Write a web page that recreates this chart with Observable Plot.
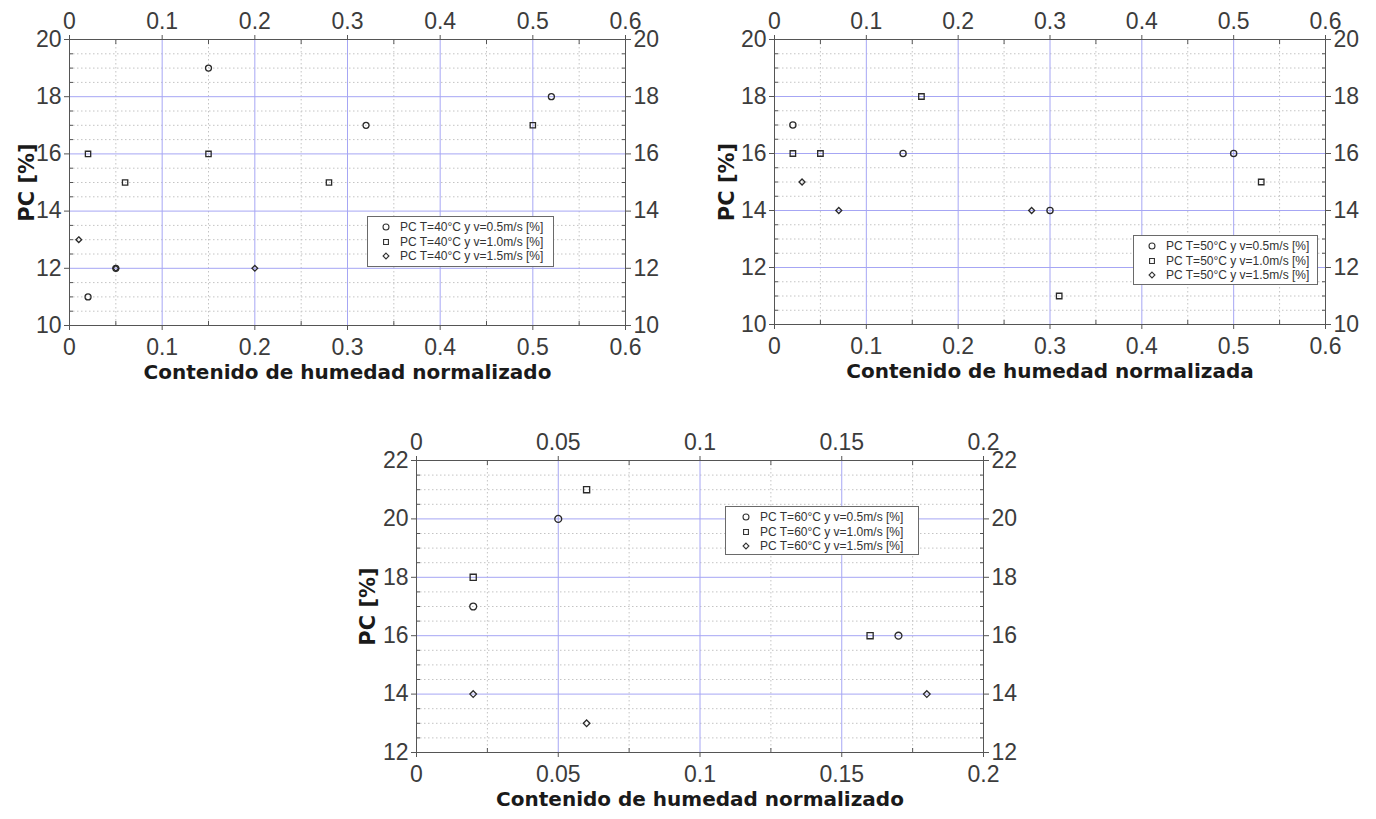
<!DOCTYPE html>
<html>
<head>
<meta charset="utf-8">
<script src="https://cdn.jsdelivr.net/npm/d3@7"></script>
<script src="https://cdn.jsdelivr.net/npm/@observablehq/plot@0.6"></script>
<style>
  html, body { margin: 0; padding: 0; background: #fff; }
  #page { position: relative; width: 1376px; height: 819px; overflow: hidden; background: #fff; }
  .panel { position: absolute; }
  .legend {
    position: absolute; background: #fff; border: 1px solid #6a6a6a;
    font-family: 'Liberation Sans', Arial, sans-serif;
    font-size: 12px; color: #333; box-sizing: border-box;
  }
  .legend .row { display: flex; align-items: center; height: 14.5px; white-space: nowrap; }
  .legend svg { display: block; flex-shrink: 0; }
</style>
</head>
<body>
<div id="page"></div>
<script>
// PC [%] versus normalised moisture content, three drying temperatures

// T = 40 °C
const x40_v05 = [0.02, 0.05, 0.15, 0.32, 0.52];
const y40_v05 = [11, 12, 19, 17, 18];
const x40_v10 = [0.02, 0.06, 0.15, 0.28, 0.50];
const y40_v10 = [16, 15, 16, 15, 17];
const x40_v15 = [0.01, 0.05, 0.20];
const y40_v15 = [13, 12, 12];

// T = 50 °C
const x50_v05 = [0.02, 0.14, 0.30, 0.50];
const y50_v05 = [17, 16, 14, 16];
const x50_v10 = [0.02, 0.05, 0.16, 0.31, 0.53];
const y50_v10 = [16, 16, 18, 11, 15];
const x50_v15 = [0.03, 0.07, 0.28];
const y50_v15 = [15, 14, 14];

// T = 60 °C
const x60_v05 = [0.02, 0.05, 0.17];
const y60_v05 = [17, 20, 16];
const x60_v10 = [0.02, 0.06, 0.16];
const y60_v10 = [18, 21, 16];
const x60_v15 = [0.02, 0.06, 0.18];
const y60_v15 = [14, 13, 14];

// Axis ticks
const xTicksA = [0, 0.1, 0.2, 0.3, 0.4, 0.5, 0.6];
const xMinorA = [0.05, 0.15, 0.25, 0.35, 0.45, 0.55];
const yTicksA = [10, 12, 14, 16, 18, 20];
const xTicksB = [0, 0.05, 0.1, 0.15, 0.2];
const xMinorB = [0.025, 0.075, 0.125, 0.175];
const yTicksB = [12, 14, 16, 18, 20, 22];

const speeds = ["0.5", "1.0", "1.5"];
const symbols = ["circle", "square", "diamond2"];

const tickFont = "'Liberation Sans', Arial, sans-serif";
const titleFont = "'DejaVu Sans', sans-serif";
const majorGrid = "#a6a6f4";
const minorGrid = "#c4c4c4";
const ink = "#3c3c3c";
const fmt = d => String(+d.toFixed(3));

// minor y grid every 0.5 between the labelled ticks
function halfSteps(lo, hi) {
  const out = [];
  for (let v = lo; v <= hi + 1e-9; v += 0.5) if (v % 2 !== 0) out.push(v);
  return out;
}

function build(series) {
  const rows = [];
  series.forEach(([xs, ys], i) => xs.forEach((x, j) => rows.push({x, y: ys[j], s: i})));
  return rows;
}

function panel(o) {
  const yMinor = halfSteps(o.yTicks[0], o.yTicks[o.yTicks.length - 1]);
  const rows = build(o.series);
  const axisCommon = {fontSize: 23, fontFamily: tickFont, fill: ink, stroke: "#555", label: null};
  const minorCommon = {tickSize: -4, tickFormat: () => "", stroke: "#555", label: null};
  return Plot.plot({
    width: o.width, height: o.height,
    marginLeft: o.ml, marginRight: o.mr, marginTop: o.mt, marginBottom: o.mb,
    style: {background: "transparent", color: ink},
    x: {domain: o.xDomain},
    y: {domain: o.yDomain},
    symbol: {type: "identity"},
    marks: [
      Plot.gridY(yMinor, {stroke: minorGrid, strokeOpacity: 1, strokeDasharray: "1.5,2.5"}),
      Plot.gridX(o.xMinor, {stroke: minorGrid, strokeOpacity: 1, strokeDasharray: "1.5,2.5"}),
      Plot.gridY(o.yTicks, {stroke: majorGrid, strokeOpacity: 1}),
      Plot.gridX(o.xTicks, {stroke: majorGrid, strokeOpacity: 1}),
      Plot.axisX(o.xTicks, {...axisCommon, anchor: "bottom", tickSize: 5, tickPadding: 8, tickFormat: fmt}),
      Plot.axisX(o.xTicks, {...axisCommon, anchor: "top", tickSize: 5, tickPadding: 6, tickFormat: fmt}),
      Plot.axisY(o.yTicks, {...axisCommon, anchor: "left", tickSize: 5, tickPadding: 3, tickFormat: fmt}),
      Plot.axisY(o.yTicks, {...axisCommon, anchor: "right", tickSize: 5, tickPadding: 3, tickFormat: fmt}),
      Plot.axisX(o.xMinor, {...minorCommon, anchor: "bottom"}),
      Plot.axisX(o.xMinor, {...minorCommon, anchor: "top"}),
      Plot.axisY(yMinor, {...minorCommon, anchor: "left"}),
      Plot.axisY(yMinor, {...minorCommon, anchor: "right"}),
      Plot.frame({stroke: "#555"}),
      Plot.dot(rows, {
        x: "x", y: "y", symbol: d => symbols[d.s], r: d => d.s === 2 ? 2.7 : 3.6,
        stroke: "#2a2a2a", fill: "none", strokeWidth: 1.3
      }),
      Plot.text([o.xLabel], {frameAnchor: "bottom", dy: 53, fontSize: 20, fontWeight: "bold",
        fontFamily: titleFont, fill: "#1a1a1a"}),
      Plot.text(["PC [%]"], {frameAnchor: "left", dx: o.yLabelDx, rotate: -90, textAnchor: "middle",
        fontSize: 21, fontWeight: "bold", fontFamily: titleFont, fill: "#1a1a1a"})
    ]
  });
}

function legend(temp, box) {
  const div = document.createElement("div");
  div.className = "legend";
  Object.assign(div.style, {left: box.left + "px", top: box.top + "px", width: box.w + "px", height: box.h + "px",
    paddingLeft: box.pad + "px", paddingTop: box.pt + "px"});
  const shapes = [d3.symbolCircle, d3.symbolSquare2, d3.symbolDiamond2];
  const sizes = [28, 30, 22];
  speeds.forEach((v, i) => {
    const row = document.createElement("div");
    row.className = "row";
    const sym = d3.create("svg").attr("width", 12).attr("height", 12).style("margin-right", box.gap + "px");
    sym.append("path").attr("d", d3.symbol(shapes[i], sizes[i])()).attr("transform", "translate(6,6)")
      .attr("fill", "none").attr("stroke", "#333").attr("stroke-width", 1.1);
    row.appendChild(sym.node());
    const t = document.createElement("span");
    t.textContent = `PC T=${temp}°C y v=${v}m/s [%]`;
    row.appendChild(t);
    div.appendChild(row);
  });
  return div;
}

const page = document.getElementById("page");
function place(node, left, top) {
  const wrap = document.createElement("div");
  wrap.className = "panel";
  wrap.style.left = left + "px";
  wrap.style.top = top + "px";
  wrap.appendChild(node);
  page.appendChild(wrap);
}

place(panel({
  width: 690, height: 400, ml: 69, mr: 65, mt: 39, mb: 75,
  xDomain: [0, 0.6], yDomain: [10, 20], xTicks: xTicksA, xMinor: xMinorA, yTicks: yTicksA,
  series: [[x40_v05, y40_v05], [x40_v10, y40_v10], [x40_v15, y40_v15]],
  xLabel: "Contenido de humedad normalizado", yLabelDx: -42
}), 0, 0);

place(panel({
  width: 686, height: 400, ml: 84, mr: 51, mt: 39, mb: 76,
  xDomain: [0, 0.6], yDomain: [10, 20], xTicks: xTicksA, xMinor: xMinorA, yTicks: yTicksA,
  series: [[x50_v05, y50_v05], [x50_v10, y50_v10], [x50_v15, y50_v15]],
  xLabel: "Contenido de humedad normalizada", yLabelDx: -47
}), 690, 0);

place(panel({
  width: 700, height: 399, ml: 76, mr: 57, mt: 40, mb: 67,
  xDomain: [0, 0.2], yDomain: [12, 22], xTicks: xTicksB, xMinor: xMinorB, yTicks: yTicksB,
  series: [[x60_v05, y60_v05], [x60_v10, y60_v10], [x60_v15, y60_v15]],
  xLabel: "Contenido de humedad normalizado", yLabelDx: -48
}), 340, 420);

page.appendChild(legend(40, {left: 367, top: 216, w: 187, h: 51, pad: 12, pt: 3, gap: 8}));
page.appendChild(legend(50, {left: 1133, top: 235, w: 185, h: 50, pad: 12, pt: 3, gap: 8}));
page.appendChild(legend(60, {left: 725, top: 506, w: 194, h: 49, pad: 14, pt: 3, gap: 8}));
</script>
</body>
</html>
